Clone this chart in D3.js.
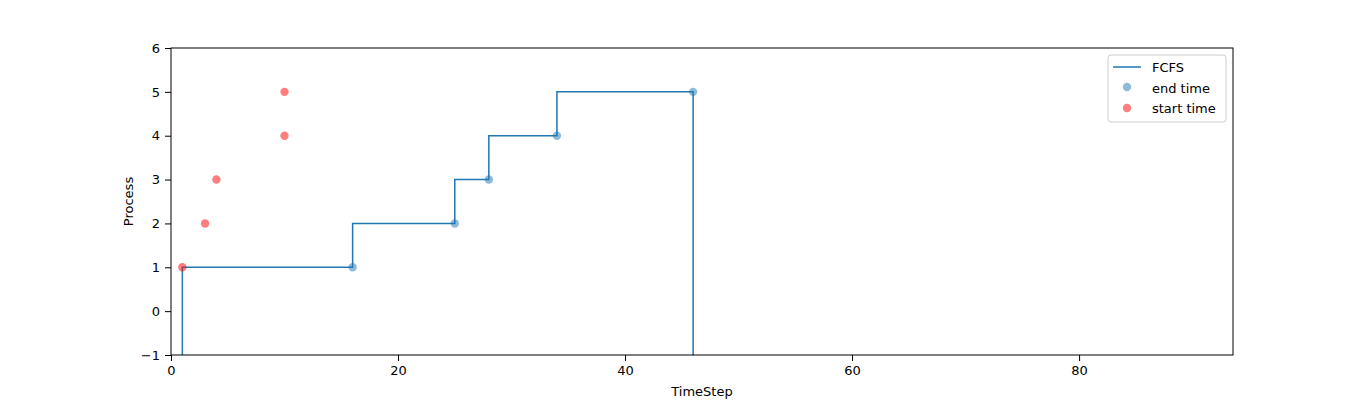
<!DOCTYPE html>
<html><head><meta charset="utf-8">
<script src="https://cdn.jsdelivr.net/npm/d3@7"></script>
<style>body{margin:0;background:#fff}text{font-family:"DejaVu Sans",sans-serif;font-size:13px}</style>
</head><body>
<svg id="chart" width="1370" height="400"></svg>
<script>
// process numbers
var processes = [1, 2, 3, 4, 5];
var startTimes = [1, 3, 4, 10, 10];
var endTimes = [16, 25, 28, 34, 46];
var xTicks = [0, 20, 40, 60, 80];
var yTicks = [-1, 0, 1, 2, 3, 4, 5, 6];

var svg = d3.select("#chart"),
    margin = {top: 48, right: 137, bottom: 45, left: 171},
    width = +svg.attr("width") - margin.left - margin.right,
    height = +svg.attr("height") - margin.top - margin.bottom,
    g = svg.append("g").attr("transform", "translate(" + margin.left + "," + margin.top + ")");

var x = d3.scaleLinear().domain([0, 93.56]).range([0, width]);
var y = d3.scaleLinear().domain([-1, 6]).range([height, 0]);

// step line: up from -1 at first start, each end time, then down at last end
var stepPts = [[startTimes[0], -1], [startTimes[0], processes[0]]];
for (var i = 0; i < endTimes.length - 1; i++) stepPts.push([endTimes[i], processes[i + 1]]);
stepPts.push([endTimes[endTimes.length - 1], -1]);

var line = d3.line()
    .x(function(d) { return x(d[0]); })
    .y(function(d) { return y(d[1]); })
    .curve(d3.curveStepAfter);

g.append("path")
    .datum(stepPts)
    .attr("fill", "none")
    .attr("stroke", "#1f77b4")
    .attr("stroke-width", 1.5)
    .attr("d", line);

g.selectAll(".endpt").data(endTimes).enter().append("circle")
    .attr("cx", function(d) { return x(d); })
    .attr("cy", function(d, i) { return y(processes[i]); })
    .attr("r", 4.2)
    .attr("fill", "#1f77b4").attr("fill-opacity", 0.5);

g.selectAll(".startpt").data(startTimes).enter().append("circle")
    .attr("cx", function(d) { return x(d); })
    .attr("cy", function(d, i) { return y(processes[i]); })
    .attr("r", 4.2)
    .attr("fill", "#ff0000").attr("fill-opacity", 0.5);

var xAxis = g.append("g").attr("transform", "translate(0," + height + ")")
    .call(d3.axisBottom(x).tickValues(xTicks).tickSizeOuter(0).tickPadding(5));
var yAxis = g.append("g")
    .call(d3.axisLeft(y).tickValues(yTicks).tickSizeOuter(0).tickPadding(5).tickFormat(function(d){ return d < 0 ? "\u2212" + (-d) : d; }));
[xAxis, yAxis].forEach(function(a){
  a.selectAll("text").attr("font-size", 13).attr("fill", "#000").style("font-family", "DejaVu Sans");
  a.select(".domain").remove();
});

g.append("rect").attr("width", width).attr("height", height)
    .attr("fill", "none").attr("stroke", "#000").attr("stroke-width", 1);

svg.append("text").attr("x", margin.left + width / 2).attr("y", 396)
    .attr("text-anchor", "middle").text("TimeStep");
svg.append("text").attr("transform", "translate(133," + (margin.top + height / 2) + ") rotate(-90)")
    .attr("text-anchor", "middle").text("Process");

// legend
var lg = svg.append("g").attr("transform", "translate(1108,55)");
lg.append("rect").attr("width", 118).attr("height", 67).attr("rx", 3)
    .attr("fill", "#fff").attr("stroke", "#ccc");
lg.append("line").attr("x1", 5).attr("x2", 33).attr("y1", 12).attr("y2", 12)
    .attr("stroke", "#1f77b4").attr("stroke-width", 1.5);
lg.append("circle").attr("cx", 19).attr("cy", 32).attr("r", 4.2).attr("fill", "#1f77b4").attr("fill-opacity", 0.5);
lg.append("circle").attr("cx", 19).attr("cy", 53).attr("r", 4.2).attr("fill", "#ff0000").attr("fill-opacity", 0.5);
["FCFS", "end time", "start time"].forEach(function(t, i) {
  lg.append("text").attr("x", 44).attr("y", 17 + i * 20.5).text(t);
});
</script>
</body></html>
